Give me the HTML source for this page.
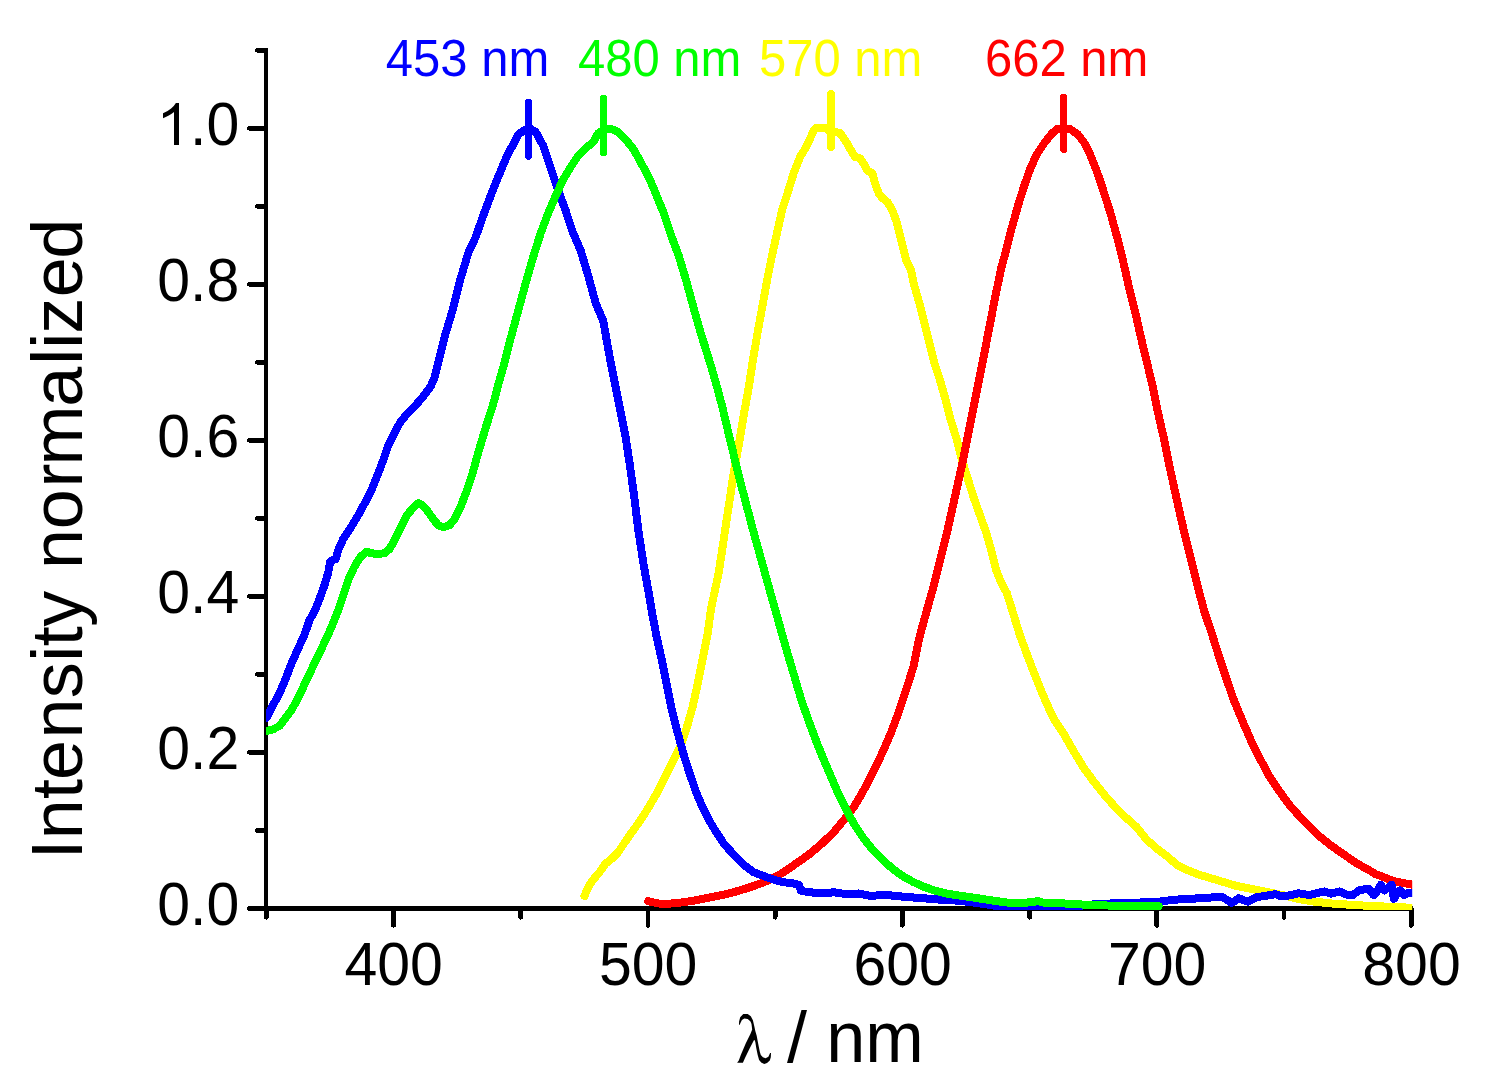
<!DOCTYPE html>
<html><head><meta charset="utf-8"><title>Normalized emission spectra</title>
<style>
html,body{margin:0;padding:0;background:#fff;}
body{width:1492px;height:1089px;overflow:hidden;}
svg{display:block;}
text{font-family:"Liberation Sans",sans-serif;}
.c{fill:none;stroke-width:8;stroke-linejoin:round;stroke-linecap:round;}
.m{fill:none;stroke-linecap:round;}
</style></head><body>
<svg width="1492" height="1089" viewBox="0 0 1492 1089">
<rect x="0" y="0" width="1492" height="1089" fill="#fff"/>
<g fill="#000" shape-rendering="crispEdges">
<rect x="264" y="48" width="4" height="863" />
<rect x="264" y="906" width="1149" height="5" />
<g stroke="#000" stroke-width="4.8" stroke-linecap="round" fill="none">
<line x1="249.4" y1="908.5" x2="266" y2="908.5" />
<line x1="257.4" y1="830.5" x2="266" y2="830.5" />
<line x1="249.4" y1="752.4" x2="266" y2="752.4" />
<line x1="257.4" y1="674.4" x2="266" y2="674.4" />
<line x1="249.4" y1="596.4" x2="266" y2="596.4" />
<line x1="257.4" y1="518.4" x2="266" y2="518.4" />
<line x1="249.4" y1="440.3" x2="266" y2="440.3" />
<line x1="257.4" y1="362.3" x2="266" y2="362.3" />
<line x1="249.4" y1="284.3" x2="266" y2="284.3" />
<line x1="257.4" y1="206.2" x2="266" y2="206.2" />
<line x1="249.4" y1="128.2" x2="266" y2="128.2" />
<line x1="257.4" y1="50.2" x2="266" y2="50.2" />
<line x1="266.2" y1="908" x2="266.2" y2="917.3" />
<line x1="393.5" y1="908" x2="393.5" y2="925.4" />
<line x1="520.7" y1="908" x2="520.7" y2="917.3" />
<line x1="647.9" y1="908" x2="647.9" y2="925.4" />
<line x1="775.1" y1="908" x2="775.1" y2="917.3" />
<line x1="902.4" y1="908" x2="902.4" y2="925.4" />
<line x1="1029.6" y1="908" x2="1029.6" y2="917.3" />
<line x1="1156.8" y1="908" x2="1156.8" y2="925.4" />
<line x1="1284.0" y1="908" x2="1284.0" y2="917.3" />
<line x1="1411.2" y1="908" x2="1411.2" y2="925.4" />
</g>
</g>
<g fill="#000">
<text transform="translate(239.3,925.3) scale(1,1.035)" text-anchor="end" font-size="59">0.0</text>
<text transform="translate(239.3,769.2) scale(1,1.035)" text-anchor="end" font-size="59">0.2</text>
<text transform="translate(239.3,613.2) scale(1,1.035)" text-anchor="end" font-size="59">0.4</text>
<text transform="translate(239.3,457.1) scale(1,1.035)" text-anchor="end" font-size="59">0.6</text>
<text transform="translate(239.3,301.1) scale(1,1.035)" text-anchor="end" font-size="59">0.8</text>
<path d="M179,144.9 L174,144.9 L174,112.1 Q172,113.9 168.8,115.6 Q165.6,117.4 163,118.2 L163,113.3 Q167.6,111.3 171.1,108.4 Q174.5,105.6 175.9,103 L179,103 Z"/>
<text transform="translate(239.3,145.0) scale(1,1.035)" text-anchor="end" font-size="59">.0</text>
<text transform="translate(393.7,985.2) scale(1,1.035)" text-anchor="middle" font-size="59">400</text>
<text transform="translate(648.2,985.2) scale(1,1.035)" text-anchor="middle" font-size="59">500</text>
<text transform="translate(902.6,985.2) scale(1,1.035)" text-anchor="middle" font-size="59">600</text>
<text transform="translate(1157.1,985.2) scale(1,1.035)" text-anchor="middle" font-size="59">700</text>
<text transform="translate(1411.5,985.2) scale(1,1.035)" text-anchor="middle" font-size="59">800</text>
</g>
<text transform="translate(82.3,860) rotate(-90)" font-size="72" fill="#000" dx="0.4 0.3 0.2 -0.9 1.5 0.2 0.3 -0.4 -0.4 0 1.5 -0.2 1.6 -1.8 -1.4 2.1 0 -1 0.5 -1.5">Intensity normalized</text>
<polygon fill="#000" points="739.0,1024.8 739.1,1021.4 740.2,1017.2 743.3,1014.1 747.7,1014.1 750.8,1016.2 752.9,1020.3 754.3,1026.2 755.3,1031.0 756.7,1035.8 757.7,1041.3 758.8,1046.8 759.8,1051.7 760.8,1055.1 762.9,1057.2 765.6,1058.2 768.4,1056.8 770.1,1053.0 771.0,1053.0 770.8,1057.2 769.8,1060.6 767.0,1063.0 764.3,1063.9 761.5,1062.7 759.1,1059.9 757.7,1055.1 756.3,1048.2 755.3,1042.0 754.6,1040.0 753.9,1040.3 749.1,1049.6 745.0,1057.9 742.9,1062.7 737.1,1062.7 738.8,1060.6 740.8,1055.1 745.7,1043.4 750.5,1033.8 752.2,1029.6 751.5,1024.1 750.5,1021.4 747.7,1018.9 744.3,1018.5 741.9,1020.0 740.2,1023.4 739.8,1024.8"/>
<text x="787" y="1062.3" font-size="72" fill="#000">/</text>
<text transform="translate(826.2,1062.3) scale(0.975,1)" font-size="72" fill="#000">nm</text>
<defs><clipPath id="pc"><rect x="266" y="40" width="1146.2" height="870"/></clipPath></defs>
<g shape-rendering="crispEdges" clip-path="url(#pc)">
<g transform="translate(0.7,0.7)">
<polyline class="c" stroke="#ffff00" points="583.8,895.3 587.5,886.5 592.5,879.0 598.8,871.5 605.0,862.8 611.3,857.8 617.5,851.5 625.0,840.3 633.0,829.0 639.3,820.3 648.0,806.5 656.8,791.5 664.3,776.5 671.8,761.5 679.3,746.5 685.5,729.0 691.8,706.5 696.8,684.0 701.8,659.0 706.8,634.0 710.5,607.0 714.3,589.5 718.0,572.0 721.8,547.0 725.5,522.0 729.3,497.0 733.0,472.0 738.0,444.5 743.0,414.5 748.0,387.0 751.8,362.0 756.8,332.5 761.8,305.0 766.8,277.5 771.8,252.5 776.8,230.0 781.8,207.5 786.8,192.5 793.0,172.5 799.3,156.3 805.5,146.3 809.5,137.5 813.3,129.5 815.5,127.4 824.8,127.4 828.5,129.8 833.0,131.0 839.3,132.3 845.5,141.3 850.5,150.0 854.3,156.3 859.3,157.5 864.3,165.0 866.8,170.0 871.8,172.5 874.3,182.5 878.0,192.5 881.8,197.5 886.8,201.3 891.8,210.0 895.5,220.0 899.3,235.0 903.0,250.0 905.5,260.0 910.5,270.0 913.0,282.5 918.0,300.0 923.0,320.0 928.0,340.0 933.5,362.0 939.3,379.5 944.3,397.0 949.3,417.0 955.5,437.0 960.5,457.0 966.8,477.0 973.0,497.0 979.3,514.5 985.5,532.0 990.5,549.5 995.5,569.5 1000.5,582.0 1006.0,592.0 1012.3,612.0 1019.0,634.0 1027.3,656.5 1036.0,679.0 1044.8,700.3 1053.5,719.0 1063.5,734.0 1073.5,751.5 1083.5,767.8 1093.5,781.5 1103.5,794.0 1113.5,805.3 1124.8,816.5 1136.0,826.5 1146.0,839.0 1156.0,847.8 1166.0,855.3 1176.0,864.0 1186.0,869.0 1198.5,874.0 1211.0,877.8 1223.5,881.5 1236.0,885.3 1248.5,887.8 1261.0,890.3 1273.5,892.8 1286.0,895.3 1298.5,898.5 1311.0,900.6 1331.0,902.8 1356.0,904.5 1378.5,905.6 1395.0,906.4 1412.0,907.1"/>
</g>
<line class="m" stroke="#ffff00" stroke-width="8" x1="831.05" y1="93.9" x2="831.05" y2="147.1"/>
<g transform="translate(0.7,0.7)">
<polyline class="c" stroke="#ff0000" points="647.5,900.6 658.0,902.8 670.5,902.8 683.0,901.5 695.5,899.5 708.0,897.0 720.5,894.5 733.0,891.5 745.5,887.8 758.0,883.5 770.5,878.5 783.0,871.5 795.5,862.8 808.0,854.0 820.5,843.5 833.0,831.5 845.5,816.5 853.0,806.5 860.5,794.0 868.0,780.3 875.5,765.3 883.0,749.0 890.5,731.5 898.0,711.5 905.5,689.0 913.0,665.3 917.6,641.5 919.4,634.0 926.2,609.5 931.8,589.5 936.8,569.5 941.8,549.5 946.8,529.5 951.8,507.0 956.8,484.5 961.8,462.0 966.8,437.0 971.8,412.0 976.8,387.0 981.8,362.0 988.0,330.0 994.3,297.5 1000.5,267.5 1006.0,247.5 1011.0,227.5 1017.3,205.0 1023.5,185.0 1029.8,167.5 1036.0,153.8 1043.5,142.5 1051.0,133.0 1056.5,128.4 1063.0,127.2 1069.5,128.4 1077.3,133.8 1084.8,143.8 1091.0,157.5 1097.3,173.8 1103.5,192.5 1109.8,212.5 1116.0,235.0 1122.3,260.0 1128.5,287.5 1134.8,312.5 1139.8,335.0 1146.3,362.0 1152.3,387.0 1157.3,412.0 1163.0,437.0 1168.0,462.0 1173.5,487.0 1179.0,512.0 1184.8,537.0 1191.0,562.0 1197.3,587.0 1204.0,612.0 1211.5,634.0 1218.5,656.5 1226.0,679.0 1233.5,700.3 1242.3,721.5 1251.0,741.5 1259.8,759.0 1268.5,775.3 1278.5,790.3 1288.5,804.0 1298.5,815.3 1308.5,825.3 1318.5,835.3 1331.0,845.3 1343.5,854.0 1355.7,862.5 1368.5,869.5 1374.5,873.2 1393.2,880.5 1412.0,884.1"/>
</g>
<line class="m" stroke="#ff0000" stroke-width="7.2" x1="1063.6" y1="97.3" x2="1063.6" y2="149.4"/>
<g transform="translate(0.7,0.7)">
<polyline class="c" stroke="#0000ff" points="266.0,717.0 267.5,714.0 272.5,704.0 278.8,692.8 285.0,677.8 291.3,661.5 297.5,647.8 303.8,634.0 308.8,619.5 313.8,610.8 318.8,598.3 323.8,584.5 327.5,572.0 329.5,560.8 335.0,558.3 337.5,549.5 342.5,538.3 350.0,527.0 357.5,514.5 365.0,500.8 371.3,488.3 376.3,475.8 382.5,459.5 387.5,444.5 393.8,432.0 400.0,420.8 407.5,412.0 415.0,404.5 422.5,395.8 430.0,385.8 433.8,377.0 437.5,362.0 445.0,332.5 452.5,307.5 460.0,277.5 467.5,252.5 475.0,236.3 482.5,215.0 490.0,195.0 497.5,176.3 506.3,155.0 512.5,143.8 517.5,133.8 525.0,128.8 528.8,127.5 535.0,131.3 542.5,145.0 550.0,167.5 557.5,190.0 565.0,210.0 572.5,232.5 580.0,250.0 587.5,275.0 595.0,302.5 602.5,320.0 610.0,362.0 615.0,387.0 620.0,412.0 625.0,437.0 628.8,462.0 633.0,492.0 638.0,532.0 643.0,564.5 648.0,592.0 651.8,614.5 655.5,634.0 660.5,656.5 665.5,681.5 670.5,706.5 676.8,731.5 683.0,754.0 689.3,774.0 695.5,791.5 701.8,806.5 708.0,819.0 715.5,831.5 723.0,842.8 733.0,854.0 743.0,864.0 753.0,871.5 763.0,875.3 773.0,879.0 783.0,881.5 793.0,882.8 798.0,884.0 800.5,890.3 813.0,892.0 823.0,892.8 833.0,891.5 845.5,893.5 858.0,892.8 870.5,895.3 883.0,894.0 895.5,895.3 908.0,896.5 920.5,897.3 933.0,898.5 945.5,899.3 958.0,900.0 970.5,901.5 983.0,903.3 994.0,905.0 1010.0,906.5 1028.0,908.3 1051.0,907.9 1075.0,905.5 1097.0,903.3 1115.0,902.6 1131.0,902.2 1146.0,901.5 1158.0,901.0 1170.0,899.5 1181.0,898.5 1188.0,898.7 1198.5,897.3 1210.0,896.8 1222.0,896.5 1231.0,902.2 1238.0,897.6 1247.0,901.0 1256.0,896.5 1268.5,894.5 1275.0,893.5 1281.0,895.8 1290.0,894.5 1297.5,892.5 1308.8,894.4 1316.3,892.5 1323.8,890.7 1330.3,893.0 1338.8,890.7 1347.2,894.4 1351.9,894.4 1358.5,889.7 1367.9,887.9 1373.0,894.4 1376.3,890.7 1380.1,884.1 1383.8,889.7 1387.6,886.9 1390.9,884.1 1393.2,898.2 1396.0,892.5 1399.3,889.7 1403.5,894.4 1407.3,892.5 1412.0,892.7"/>
</g>
<line class="m" stroke="#0000ff" stroke-width="7.2" x1="528.5" y1="102.4" x2="528.5" y2="156.2"/>
<g transform="translate(0.7,0.7)">
<polyline class="c" stroke="#00ff00" points="266.0,730.3 272.5,728.5 278.8,725.3 283.5,719.0 291.0,709.0 298.5,695.3 304.8,681.5 312.5,665.3 320.3,649.0 327.5,634.0 332.5,622.0 337.5,609.5 342.5,594.5 347.5,579.5 353.8,565.8 360.0,555.8 366.3,550.8 370.0,552.5 377.5,553.3 383.8,552.5 388.8,548.3 393.8,539.5 400.0,527.0 406.3,514.5 412.5,507.0 417.5,502.5 421.3,504.0 426.3,509.5 432.5,518.3 437.5,524.5 442.5,526.5 448.8,524.5 453.8,518.3 460.0,505.8 466.3,489.5 471.3,474.5 477.5,452.0 485.0,427.0 492.5,403.3 498.8,379.5 503.8,362.0 510.0,337.5 517.5,310.0 525.0,282.5 532.5,256.3 540.0,232.5 547.5,212.5 555.0,195.0 562.5,178.8 570.0,166.3 577.5,155.0 585.0,147.5 592.5,141.3 597.5,132.5 603.8,128.8 610.0,128.0 617.5,131.3 625.0,138.8 633.0,148.8 640.5,162.5 648.0,176.3 655.5,193.8 663.0,212.5 670.5,235.0 678.0,255.0 685.5,280.0 693.0,307.5 700.5,333.8 709.3,362.0 715.5,383.3 721.8,407.0 728.0,433.3 734.3,459.5 740.5,484.5 746.8,508.3 753.0,532.0 759.3,554.5 765.5,577.0 771.8,599.5 776.8,617.0 781.5,634.0 788.0,656.5 794.3,677.8 800.5,699.0 808.0,720.3 815.5,740.3 823.0,759.0 830.5,776.5 838.0,794.0 845.5,809.0 853.0,822.8 863.0,837.8 873.0,850.3 883.0,860.3 893.0,869.0 903.0,876.0 913.0,881.5 923.0,886.0 933.0,889.5 945.5,892.8 958.0,894.8 970.5,896.5 983.0,898.5 995.5,900.3 1006.0,901.8 1020.0,902.3 1031.0,901.5 1037.0,900.4 1042.0,901.8 1056.0,902.3 1081.0,903.8 1106.0,904.8 1131.0,905.2 1158.0,905.6"/>
</g>
<line class="m" stroke="#00ff00" stroke-width="7.2" x1="603.55" y1="98.4" x2="603.55" y2="152.5"/>
</g>
<g font-size="49">
<text transform="translate(385.8,75.5) scale(1,1.055)" fill="#0000ff">453 nm</text>
<text transform="translate(578,75.5) scale(1,1.055)" fill="#00ff00">480 nm</text>
<text transform="translate(759,75.5) scale(1,1.055)" fill="#ffff00">570 nm</text>
<text transform="translate(985,75.5) scale(1,1.055)" fill="#ff0000">662 nm</text>
</g>
</svg>
</body></html>
